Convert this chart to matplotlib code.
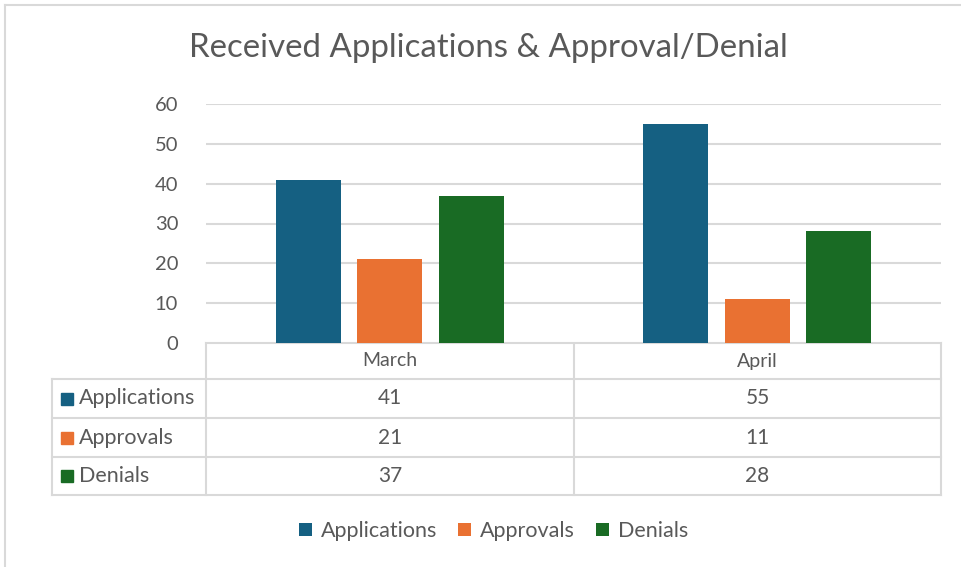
import numpy as np
import matplotlib
matplotlib.use("Agg")
import matplotlib.pyplot as plt
from matplotlib.patches import Rectangle

plt.rcParams['font.family'] = ['Lato', 'DejaVu Sans']

# data
months = ['March', 'April']
series = ['Applications', 'Approvals', 'Denials']
applications = [41, 55]
approvals = [21, 11]
denials = [37, 28]
colors = ['#156082', '#E97132', '#196B24']
text_col = '#595959'
grid_col = '#D9D9D9'

W, H = 962, 567
fig = plt.figure(figsize=(W / 100, H / 100), dpi=100)

# plot area in pixel coords
px0, px1, py0, py1 = 206, 941, 104, 343
ax = fig.add_axes([px0 / W, 1 - py1 / H, (px1 - px0) / W, (py1 - py0) / H])

x = np.arange(len(months))
width = 0.177
step = 0.222
bars = []
for i, (name, vals) in enumerate(zip(series, [applications, approvals, denials])):
    b = ax.bar(x + (i - 1) * step, vals, width, color=colors[i], label=name, zorder=3)
    bars.append(b)

ax.set_xlim(-0.5, 1.5)
ax.set_ylim(0, 60)
ax.set_yticks(range(0, 61, 10))
ax.yaxis.grid(True, color=grid_col, linewidth=1.5, zorder=0)
ax.set_xticks([])
for s in ax.spines.values():
    s.set_visible(False)
ax.tick_params(axis='y', length=0, pad=20, labelsize=14.5, labelcolor=text_col)

# overlay for table, frame, title
ov = fig.add_axes([0, 0, 1, 1], zorder=-1)
ov.set_xlim(0, W)
ov.set_ylim(H, 0)
ov.axis('off')

# outer frame
ov.plot([5, W], [5, 5], color='#D9D9D9', lw=1.5)
ov.plot([5, 5], [5, H], color='#D9D9D9', lw=1.5)

ov.text(488, 48, 'Received Applications & Approval/Denial', ha='center', va='center',
        fontsize=23.8, color=text_col)

# data table
tl = 52
col_mid = 574
rows_y = [343, 379, 418, 457, 495]
lc = '#D9D9D9'
lw = 1.5
ov.plot([px0, px0], [rows_y[0], rows_y[-1]], color=lc, lw=lw)
ov.plot([col_mid, col_mid], [rows_y[0], rows_y[-1]], color=lc, lw=lw)
ov.plot([px1, px1], [rows_y[0], rows_y[-1]], color=lc, lw=lw)
ov.plot([tl, tl], [rows_y[1], rows_y[-1]], color=lc, lw=lw)
ov.plot([px0, px1], [rows_y[0], rows_y[0]], color=lc, lw=lw)
for yy in rows_y[1:]:
    ov.plot([tl, px1], [yy, yy], color=lc, lw=lw)

col_centers = [(px0 + col_mid) / 2, (col_mid + px1) / 2]
for cx, m in zip(col_centers, months):
    ov.text(cx, (rows_y[0] + rows_y[1]) / 2, m, ha='center', va='center',
            fontsize=14, color=text_col)

all_vals = [applications, approvals, denials]
for r, (name, vals) in enumerate(zip(series, all_vals)):
    yc = (rows_y[r + 1] + rows_y[r + 2]) / 2
    ov.add_patch(Rectangle((61, yc - 6), 12, 12, color=colors[r]))
    ov.text(79, yc, name, ha='left', va='center', fontsize=15.5, color=text_col)
    for cx, v in zip(col_centers, vals):
        ov.text(cx, yc, str(v), ha='center', va='center', fontsize=15, color=text_col)

# legend
leg = fig.legend(handles=bars, labels=series, loc='center', bbox_to_anchor=(0.513, 1 - 531 / H),
                 ncol=3, frameon=False, fontsize=15.5, handlelength=0.6, handleheight=0.6,
                 handletextpad=0.4, columnspacing=1.0)
for t in leg.get_texts():
    t.set_color(text_col)

fig.savefig('out.png', dpi=100)
